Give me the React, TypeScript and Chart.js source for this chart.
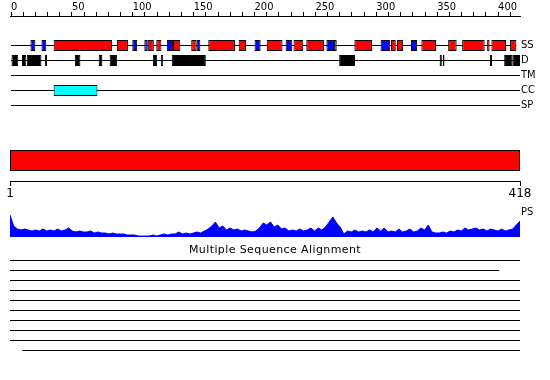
import React, { useEffect, useRef } from 'react';
import { Chart, registerables } from 'chart.js';

Chart.register(...registerables);

// ---------------- data ----------------
const SEQUENCE_LENGTH = 418;
const topAxisLabels = [0, 50, 100, 150, 200, 250, 300, 350, 400];
const topAxisMinorStep = 10;
const rulerLabels = [1, 418];
const trackLabels = ['SS', 'D', 'TM', 'CC', 'SP'];
const profileLabel = 'PS';
const msaTitle = 'Multiple Sequence Alignment';

// secondary structure: helix (red) and strand (blue), residue ranges
const helixSegments: [number, number][] = [
  [35, 83], [87, 96], [112.3, 117.3], [119.3, 123.5], [133, 139], [148, 152.5],
  [162, 184], [187, 193], [210, 223], [232, 240], [242.5, 257], [265.3, 267.5],
  [282, 296.5], [312, 316], [317, 322], [337, 349], [359, 366], [370.5, 389],
  [391, 393], [394.5, 406.5], [409.7, 415],
];
const strandSegments: [number, number][] = [
  [16, 20], [25, 29], [99.6, 103.6], [109.5, 112.3], [128, 133], [152.5, 155.5],
  [200, 205], [225.5, 231], [259, 265.3], [303.5, 311.4], [328.5, 333.5],
];
const ssTrackEnd = 415;
// disorder (black)
const disorderSegments: [number, number][] = [
  [0, 6], [9, 12.5], [13, 25], [28, 29.6], [52.5, 57], [72, 75], [81, 87],
  [116.5, 120], [123, 125], [132, 160], [269.5, 282.5], [352, 353.8],
  [354.5, 356], [393.3, 395], [405, 412], [412, 418],
];
const transmembraneSegments: [number, number][] = [];
const coiledCoilSegments: [number, number][] = [[35, 71]];
const signalPeptideSegments: [number, number][] = [];
// full-length domain bar
const domainSegments: [number, number][] = [[1, 418]];

// PS profile, one score every 3 residues starting at residue 1
const psStep = 3;
const psScores = [
  0.88, 0.44, 0.32, 0.28, 0.32, 0.28, 0.24, 0.28, 0.24, 0.32,
  0.24, 0.28, 0.24, 0.32, 0.24, 0.28, 0.36, 0.24, 0.2, 0.24,
  0.2, 0.2, 0.24, 0.16, 0.2, 0.16, 0.16, 0.12, 0.16, 0.12,
  0.12, 0.12, 0.08, 0.08, 0.08, 0.04, 0.04, 0.04, 0.04, 0.08,
  0.04, 0.08, 0.12, 0.08, 0.12, 0.12, 0.2, 0.12, 0.16, 0.12,
  0.16, 0.2, 0.16, 0.24, 0.32, 0.44, 0.6, 0.36, 0.44, 0.28,
  0.36, 0.28, 0.32, 0.24, 0.28, 0.24, 0.2, 0.24, 0.36, 0.56,
  0.48, 0.6, 0.4, 0.48, 0.32, 0.36, 0.24, 0.28, 0.24, 0.32,
  0.24, 0.28, 0.36, 0.24, 0.36, 0.28, 0.4, 0.6, 0.8, 0.56,
  0.4, 0.12, 0.24, 0.2, 0.28, 0.2, 0.24, 0.2, 0.28, 0.2,
  0.36, 0.24, 0.36, 0.2, 0.24, 0.2, 0.32, 0.2, 0.24, 0.32,
  0.2, 0.24, 0.36, 0.28, 0.48, 0.2, 0.16, 0.16, 0.2, 0.16,
  0.24, 0.2, 0.28, 0.24, 0.36, 0.28, 0.32, 0.36, 0.28, 0.32,
  0.24, 0.32, 0.28, 0.24, 0.32, 0.24, 0.28, 0.32, 0.48, 0.64,
];
const psResidues = psScores.map((_, i) => 1 + i * psStep);

// multiple sequence alignment coverage (start / end residue per sequence)
const msaStarts = [1, 1, 1, 1, 1, 1, 1, 1, 1, 11];
const msaEnds = [418, 401, 418, 418, 418, 418, 418, 418, 418, 418];

// ---------------- layout (pixels) ----------------
const W = 550;
const H = 380;
const AREA_LEFT = 10;
const AREA_TOP = 16;
const RIGHT_GUTTER = 30;
const TRACK_ROWS = [45.5, 60.5, 75.5, 90.5, 105.5];
const FEATURE_THICKNESS = 11;
const DOMAIN_ROW = 160.5;
const DOMAIN_THICKNESS = 21;
const RULER_Y = 181;
const PS_LABEL_Y = 212;
const PS_BASE_PX = 237;
const PS_PX_PER_UNIT = 25;
const MSA_TITLE_Y = 250.5;
const MSA_FIRST_Y = 260.5;
const MSA_GAP = 10;

const NARROW = "'Liberation Sans Narrow', 'DejaVu Sans Condensed', 'Liberation Sans', sans-serif";
const SANS = "'DejaVu Sans', 'Liberation Sans', sans-serif";

export default function App() {
  const canvasRef = useRef<HTMLCanvasElement | null>(null);

  useEffect(() => {
    document.body.style.margin = '0';
    const canvas = canvasRef.current;
    if (!canvas) return;

    const zeroPad = (s: any) => {
      s.paddingLeft = 0; s.paddingRight = 0; s.paddingTop = 0; s.paddingBottom = 0;
    };

    const segBar = (segs: [number, number][], row: number, color: string, thickness: number, xAxisID = 'x') => ({
      type: 'bar' as const,
      indexAxis: 'y' as const,
      data: segs.map(([a, b]) => ({ x: [a, b], y: row })),
      backgroundColor: color,
      borderColor: '#000000',
      borderWidth: 1,
      borderSkipped: false,
      grouped: false,
      barThickness: thickness,
      inflateAmount: 0,
      xAxisID,
      yAxisID: 'y',
      order: 1,
    });

    const hLine = (x0: number, x1: number, y: number, xAxisID = 'x') => ({
      type: 'line' as const,
      data: [{ x: x0, y }, { x: x1, y }],
      borderColor: '#000000',
      borderWidth: 1,
      pointRadius: 0,
      fill: false,
      xAxisID,
      yAxisID: 'y',
      order: 5,
    });

    const trackEnds = [ssTrackEnd, SEQUENCE_LENGTH, SEQUENCE_LENGTH, SEQUENCE_LENGTH, SEQUENCE_LENGTH];
    const datasets: any[] = [];
    trackLabels.forEach((_, i) => datasets.push(hLine(0, trackEnds[i], TRACK_ROWS[i])));
    datasets.push(segBar(helixSegments, TRACK_ROWS[0], '#ff0000', FEATURE_THICKNESS));
    datasets.push(segBar(strandSegments, TRACK_ROWS[0], '#0000ff', FEATURE_THICKNESS));
    datasets.push(segBar(disorderSegments, TRACK_ROWS[1], '#000000', FEATURE_THICKNESS));
    datasets.push(segBar(transmembraneSegments, TRACK_ROWS[2], '#00ff00', FEATURE_THICKNESS));
    datasets.push(segBar(coiledCoilSegments, TRACK_ROWS[3], '#00ffff', FEATURE_THICKNESS));
    datasets.push(segBar(signalPeptideSegments, TRACK_ROWS[4], '#ff00ff', FEATURE_THICKNESS));
    datasets.push(segBar(domainSegments, DOMAIN_ROW, '#ff0000', DOMAIN_THICKNESS, 'x2'));
    datasets.push({
      type: 'line',
      data: psScores.map((v, i) => ({ x: psResidues[i], y: v })),
      borderColor: '#0000ff',
      backgroundColor: '#0000ff',
      borderWidth: 1,
      pointRadius: 0,
      tension: 0,
      fill: 'origin',
      xAxisID: 'x2',
      yAxisID: 'yPS',
      order: 3,
    });
    msaStarts.forEach((s, i) => datasets.push(hLine(s, msaEnds[i], MSA_FIRST_Y + i * MSA_GAP, 'x2')));

    const minorTicks: number[] = [];
    for (let v = 0; v <= SEQUENCE_LENGTH; v += topAxisMinorStep) minorTicks.push(v);

    const psRange = (H - AREA_TOP) / PS_PX_PER_UNIT;
    const psMin = -(H - PS_BASE_PX) / PS_PX_PER_UNIT;

    const titlePlugin = {
      id: 'msaTitle',
      afterDraw(chart: any) {
        const c = chart.ctx;
        c.save();
        c.font = `11px ${SANS}`;
        try { (c as any).letterSpacing = '0.4px'; } catch (e) { /* ignore */ }
        c.fillStyle = '#000000';
        c.textAlign = 'center';
        c.textBaseline = 'middle';
        c.fillText(msaTitle, W / 2, chart.scales.y.getPixelForValue(MSA_TITLE_Y));
        c.restore();
      },
    };

    const chart = new Chart(canvas, {
      type: 'line',
      data: { datasets },
      plugins: [titlePlugin],
      options: {
        responsive: false,
        animation: false,
        events: [],
        layout: { autoPadding: false, padding: { left: AREA_LEFT, right: 0, top: 0, bottom: 0 } },
        plugins: { legend: { display: false }, tooltip: { enabled: false }, title: { display: false } },
        scales: {
          x: {
            type: 'linear', axis: 'x', position: 'top',
            min: -1 / 1.2177, max: SEQUENCE_LENGTH, offset: false, beginAtZero: false,
            afterBuildTicks: (s: any) => { s.ticks = minorTicks.map((v) => ({ value: v })); },
            ticks: {
              autoSkip: false, maxRotation: 0, minRotation: 0, align: 'start', padding: 0,
              color: '#000000', font: { family: NARROW, size: 11, lineHeight: 0.95 },
              callback: (v: any) => (topAxisLabels.includes(Number(v)) ? String(v) : ''),
            },
            grid: { drawOnChartArea: false, drawTicks: true, tickLength: 4, color: '#000000', offset: false },
            border: { display: true, color: '#000000', width: 1 },
            afterFit: (s: any) => { s.height = AREA_TOP; zeroPad(s); },
          },
          x2: {
            type: 'linear', axis: 'x', position: { y: RULER_Y },
            min: 1, max: SEQUENCE_LENGTH, offset: false, beginAtZero: false,
            afterBuildTicks: (s: any) => { s.ticks = rulerLabels.map((v) => ({ value: v })); },
            ticks: {
              autoSkip: false, maxRotation: 0, minRotation: 0, padding: 2,
              color: '#000000', font: { family: SANS, size: 12 },
              callback: (v: any) => String(v),
            },
            grid: { drawOnChartArea: false, drawTicks: true, tickLength: 4, color: '#000000', offset: false },
            border: { display: true, color: '#000000', width: 1 },
            afterFit: (s: any) => { zeroPad(s); },
          },
          y: {
            type: 'linear', axis: 'y', display: false,
            min: AREA_TOP, max: H, reverse: true, beginAtZero: false,
            offset: false, grid: { offset: false },
          },
          yPS: {
            type: 'linear', axis: 'y', display: false,
            min: psMin, max: psMin + psRange, beginAtZero: false,
            offset: false, grid: { offset: false },
          },
          yLab: {
            type: 'linear', axis: 'y', position: 'right',
            min: AREA_TOP, max: H, reverse: true, beginAtZero: false, offset: false,
            afterBuildTicks: (s: any) => {
              s.ticks = [...TRACK_ROWS, PS_LABEL_Y].map((v) => ({ value: v }));
            },
            ticks: {
              autoSkip: false, padding: 1, color: '#000000',
              font: { family: NARROW, size: 11 },
              callback: (_v: any, i: number) => [...trackLabels, profileLabel][i],
            },
            grid: { display: false, drawTicks: false, offset: false },
            border: { display: false },
            afterFit: (s: any) => { s.width = RIGHT_GUTTER; zeroPad(s); },
          },
        },
      } as any,
    });

    return () => chart.destroy();
  }, []);

  return <canvas ref={canvasRef} width={W} height={H} style={{ display: 'block' }} />;
}
